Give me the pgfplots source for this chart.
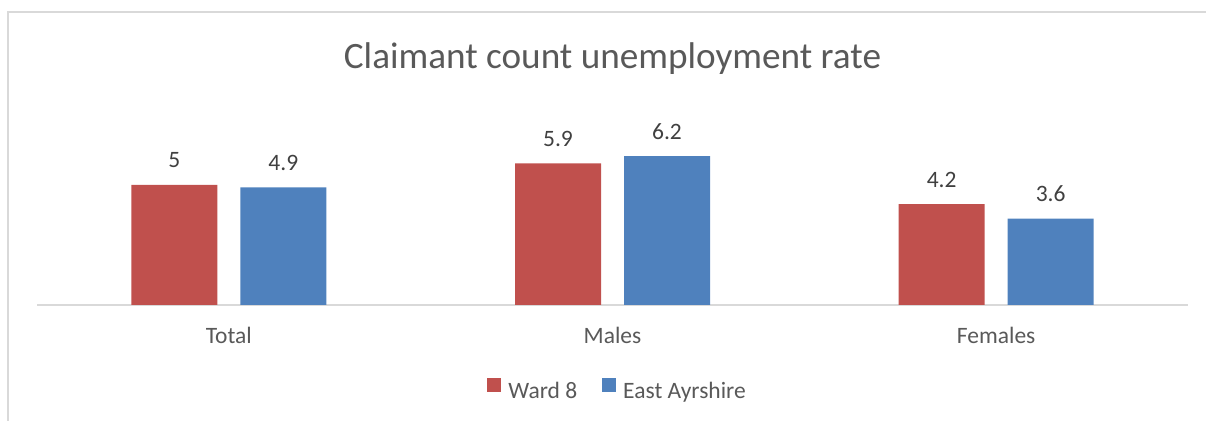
\documentclass[border=0pt]{standalone}
\usepackage{fontspec}
\setmainfont{Carlito}
\usepackage{pgfplots}
\pgfplotsset{compat=1.18}
\definecolor{wardred}{HTML}{C0504D}
\definecolor{eablue}{HTML}{4F81BD}
\definecolor{gridgray}{HTML}{D9D9D9}
\definecolor{txtgray}{HTML}{595959}
\definecolor{lblgray}{HTML}{404040}
\begin{document}
\begin{tikzpicture}
\begin{axis}[
 at={(18.5pt,58pt)}, anchor=south west,
 scale only axis, width=575.5pt, height=84pt,
 xmin=-0.5, xmax=2.5, ymin=0, ymax=7,
 axis y line=none, axis x line*=bottom,
 x axis line style={draw=gridgray, line width=0.75pt, -},
 xtick={0,1,2}, xticklabels={Total,Males,Females},
 major tick length=0pt, xtick style={draw=none},
 xticklabel style={anchor=base, yshift=-19.5pt, inner sep=0pt, font=\fontsize{11.75}{14}\selectfont, text=txtgray},
 ybar, bar width=43pt,
 /pgf/number format/assume math mode=true,
 nodes near coords,
 every node near coord/.append style={anchor=base, yshift=8.5pt, inner sep=0pt, font=\fontsize{11.75}{14}\selectfont, text=lblgray},
 title=Claimant count unemployment rate,
 title style={at={(0.5,1)}, anchor=base, yshift=28pt, font=\fontsize{18.6}{22}\selectfont, text=txtgray, inner sep=0pt},
 legend columns=2,
 legend style={at={(0.391,0)}, anchor=south west, yshift=-48.5pt, draw=none, fill=none, inner sep=0pt,
   nodes={inner sep=0pt}, font=\fontsize{11.75}{14}\selectfont, text=txtgray,
   /tikz/every odd column/.style={column sep=3.5pt},
   /tikz/every even column/.style={column sep=12.5pt}},
 legend image code/.code={\fill[#1] (0pt,0pt) rectangle (7pt,7pt);},
 clip=false,
]
\addplot[fill=wardred, draw=none, bar shift=-27.25pt] coordinates {(0,5) (1,5.9) (2,4.2)};
\addplot[fill=eablue, draw=none, bar shift=27.25pt] coordinates {(0,4.9) (1,6.2) (2,3.6)};
\legend{Ward 8, East Ayrshire}
\end{axis}
\draw[gridgray, line width=0.75pt] (4pt,0pt) -- (4pt,204.5pt) -- (603pt,204.5pt);
\pgfresetboundingbox
\path[use as bounding box] (0,0) rectangle (603pt,210.5pt);
\end{tikzpicture}
\end{document}
